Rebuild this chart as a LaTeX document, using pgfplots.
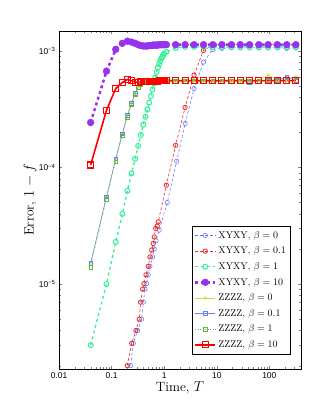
\documentclass[border=0pt]{standalone}
\usepackage{fontspec}
\usepackage{pgfplots}
\pgfplotsset{compat=1.18}
\newfontfamily\arialfont{Liberation Sans}

\definecolor{xyblue}{RGB}{90,110,250}
\definecolor{xyred}{RGB}{240,40,40}
\definecolor{xygreen}{RGB}{50,240,150}
\definecolor{xypurple}{RGB}{150,50,240}
\definecolor{zzyellow}{RGB}{200,220,60}
\definecolor{zzblue}{RGB}{100,130,240}
\definecolor{zzgreen}{RGB}{90,190,60}
\definecolor{zzred}{RGB}{255,0,0}

\begin{document}
\begin{tikzpicture}
\path[use as bounding box] (0,0) rectangle (332bp,415bp);
\begin{axis}[
    at={(59bp,46bp)}, anchor=south west,
    scale only axis, width=242bp, height=338bp,
    xmode=log, ymode=log,
    xmin=0.01, xmax=400, ymin=1.87e-6, ymax=1.48e-3,
    xtick={0.01,0.1,1,10,100},
    xticklabels={0.01,0.1,1,10,100},
    minor xtick={0.02,0.03,0.04,0.05,0.06,0.07,0.08,0.09,0.2,0.3,0.4,0.5,0.6,0.7,0.8,0.9,2,3,4,5,6,7,8,9,20,30,40,50,60,70,80,90,200,300},
    ytick={1e-5,1e-4,1e-3},
    yticklabels={10\textsuperscript{−5},10\textsuperscript{−4},10\textsuperscript{−3}},
    minor ytick={2e-6,3e-6,4e-6,5e-6,6e-6,7e-6,8e-6,9e-6,2e-5,3e-5,4e-5,5e-5,6e-5,7e-5,8e-5,9e-5,2e-4,3e-4,4e-4,5e-4,6e-4,7e-4,8e-4,9e-4},
    tick align=inside,
    major tick length=3bp, minor tick length=1.8bp,
    tick label style={font=\arialfont\fontsize{8.5}{10}\selectfont},
    xlabel={Time, $T$},
    ylabel={Error, $1-f$},
    label style={font=\fontsize{13.5}{15}\selectfont},
    xlabel style={at={(axis description cs:0.5,-0.056)}, anchor=center},
    ylabel style={at={(axis description cs:-0.12,0.5)}, anchor=center},
    legend style={at={(0.955,0.044)}, anchor=south east, draw=black,
        font=\fontsize{9.8}{11}\selectfont, fill=white, row sep=3.2bp,
        inner xsep=2bp, inner ysep=3bp},
    legend image code/.code={\draw[mark repeat=2, mark phase=2] plot coordinates {(0bp,0bp) (10bp,0bp) (20bp,0bp)};},
    legend cell align=left,
]
% XYXY, beta = 0
\addplot[xyblue, densely dashed, line width=0.5pt, mark=o, mark size=2.2pt, mark options={solid}] coordinates {
(0.231,2.0e-6)(0.259,3.1e-6)(0.313,4.0e-6)(0.373,5.0e-6)(0.401,7.0e-6)(0.432,9.06e-6)(0.465,1.01e-5)(0.498,1.2e-5)(0.537,1.42e-5)(0.604,1.71e-5)(0.648,2.0e-5)(0.699,2.35e-5)(0.807,2.9e-5)(1.145,5.0e-5)(1.73,1.13e-4)(2.5,2.38e-4)(3.7,4.75e-4)(5.6,8.0e-4)(8.4,1.03e-3)(12.5,1.05e-3)(19,1.06e-3)(28,1.06e-3)(42,1.06e-3)(63,1.06e-3)(95,1.06e-3)(142,1.06e-3)(214,1.05e-3)(320,1.06e-3)};
\addlegendentry{XYXY, $\beta=0$}
% XYXY, beta = 0.1
\addplot[xyred, densely dashed, line width=0.6pt, mark=o, mark size=2.2pt, mark options={solid, line width=0.8pt}] coordinates {
(0.199,2.0e-6)(0.241,3.1e-6)(0.291,4.0e-6)(0.336,5.0e-6)(0.357,7.0e-6)(0.390,9.06e-6)(0.413,1.01e-5)(0.451,1.2e-5)(0.498,1.42e-5)(0.537,1.71e-5)(0.579,1.96e-5)(0.620,2.23e-5)(0.647,2.54e-5)(0.689,3.0e-5)(0.739,3.14e-5)(0.772,3.42e-5)(1.1,7.05e-5)(1.65,1.55e-4)(2.5,3.27e-4)(3.7,6.2e-4)(5.6,1.01e-3)(8.4,1.12e-3)(12.5,1.13e-3)(19,1.13e-3)(28,1.13e-3)(42,1.13e-3)(63,1.13e-3)(95,1.13e-3)(142,1.13e-3)(214,1.13e-3)(320,1.13e-3)};
\addlegendentry{XYXY, $\beta=0.1$}
% XYXY, beta = 1
\addplot[xygreen, dashed, line width=1.3pt, mark=o, mark size=2.5pt, mark options={solid, line width=1pt}] coordinates {
(0.04,3.0e-6)(0.08,1.0e-5)(0.12,2.3e-5)(0.16,4.0e-5)(0.2,6.3e-5)(0.24,8.9e-5)(0.28,1.19e-4)(0.32,1.53e-4)(0.36,1.9e-4)(0.4,2.33e-4)(0.44,2.72e-4)(0.48,3.14e-4)(0.52,3.6e-4)(0.56,4.1e-4)(0.6,4.66e-4)(0.64,5.25e-4)(0.68,5.9e-4)(0.72,6.6e-4)(0.76,7.2e-4)(0.8,7.7e-4)(0.84,8.2e-4)(0.88,8.6e-4)(0.92,8.9e-4)(0.96,9.2e-4)(1.0,9.5e-4)(1.1,9.8e-4)(1.65,1.06e-3)(2.5,1.08e-3)(3.7,1.08e-3)(5.6,1.08e-3)(8.4,1.08e-3)(12.5,1.08e-3)(19,1.08e-3)(28,1.08e-3)(42,1.08e-3)(63,1.08e-3)(95,1.08e-3)(142,1.08e-3)(214,1.08e-3)(320,1.08e-3)};
\addlegendentry{XYXY, $\beta=1$}
% XYXY, beta = 10
\addplot[xypurple, dash pattern=on 3pt off 3pt, line width=2.5pt, mark=*, mark size=3.4pt, mark options={solid, line width=0.5pt}] coordinates {
(0.04,2.43e-4)(0.08,6.7e-4)(0.12,1.03e-3)(0.16,1.16e-3)(0.2,1.21e-3)(0.24,1.19e-3)(0.28,1.16e-3)(0.32,1.13e-3)(0.36,1.11e-3)(0.4,1.10e-3)(0.44,1.10e-3)(0.48,1.10e-3)(0.52,1.11e-3)(0.56,1.11e-3)(0.6,1.12e-3)(0.64,1.12e-3)(0.68,1.12e-3)(0.72,1.12e-3)(0.76,1.12e-3)(0.8,1.13e-3)(0.84,1.13e-3)(0.88,1.13e-3)(0.92,1.13e-3)(0.96,1.13e-3)(1.0,1.13e-3)(1.1,1.13e-3)(1.65,1.13e-3)(2.5,1.13e-3)(3.7,1.13e-3)(5.6,1.13e-3)(8.4,1.13e-3)(12.5,1.13e-3)(19,1.13e-3)(28,1.13e-3)(42,1.13e-3)(63,1.13e-3)(95,1.13e-3)(142,1.13e-3)(214,1.13e-3)(320,1.13e-3)};
\addlegendentry{XYXY, $\beta=10$}
% ZZZZ, beta = 0
\addplot[zzyellow, line width=0.5pt, mark=o, mark size=1.4pt] coordinates {
(0.04,1.52e-5)(0.08,5.6e-5)(0.12,1.19e-4)(0.16,1.95e-4)(0.2,2.8e-4)(0.24,3.55e-4)(0.28,4.3e-4)(0.32,4.9e-4)(0.36,5.25e-4)(0.4,5.4e-4)(0.44,5.5e-4)(0.48,5.5e-4)(0.52,5.5e-4)(0.56,5.5e-4)(0.6,5.5e-4)(0.64,5.5e-4)(0.68,5.5e-4)(0.72,5.5e-4)(0.76,5.5e-4)(0.8,5.5e-4)(0.84,5.5e-4)(0.88,5.5e-4)(0.92,5.5e-4)(0.96,5.5e-4)(1.0,5.5e-4)(1.1,5.5e-4)(1.65,5.5e-4)(2.5,5.5e-4)(3.7,5.5e-4)(5.6,5.5e-4)(8.4,5.5e-4)(12.5,5.5e-4)(19,5.5e-4)(28,5.5e-4)(42,5.45e-4)(63,5.6e-4)(95,6.2e-4)(142,5.6e-4)(214,5.7e-4)(320,6.0e-4)};
\addlegendentry{ZZZZ, $\beta=0$}
% ZZZZ, beta = 0.1
\addplot[zzblue, line width=0.5pt, mark=square, mark size=1.9pt] coordinates {
(0.04,1.52e-5)(0.08,5.6e-5)(0.12,1.19e-4)(0.16,1.95e-4)(0.2,2.8e-4)(0.24,3.55e-4)(0.28,4.3e-4)(0.32,4.9e-4)(0.36,5.25e-4)(0.4,5.4e-4)(0.44,5.5e-4)(0.48,5.5e-4)(0.52,5.5e-4)(0.56,5.5e-4)(0.6,5.5e-4)(0.64,5.5e-4)(0.68,5.5e-4)(0.72,5.5e-4)(0.76,5.5e-4)(0.8,5.5e-4)(0.84,5.5e-4)(0.88,5.5e-4)(0.92,5.5e-4)(0.96,5.5e-4)(1.0,5.5e-4)(1.1,5.5e-4)(1.65,5.5e-4)(2.5,5.5e-4)(3.7,5.5e-4)(5.6,5.5e-4)(8.4,5.5e-4)(12.5,5.5e-4)(19,5.5e-4)(28,5.5e-4)(42,5.35e-4)(63,5.5e-4)(95,5.6e-4)(142,5.6e-4)(214,6.0e-4)(320,5.6e-4)};
\addlegendentry{ZZZZ, $\beta=0.1$}
% ZZZZ, beta = 1
\addplot[zzgreen, dotted, line width=0.5pt, mark=square, mark size=1.9pt, mark options={solid}] coordinates {
(0.04,1.4e-5)(0.08,5.3e-5)(0.12,1.12e-4)(0.16,1.87e-4)(0.2,2.7e-4)(0.24,3.45e-4)(0.28,4.2e-4)(0.32,4.85e-4)(0.36,5.2e-4)(0.4,5.4e-4)(0.44,5.5e-4)(0.48,5.5e-4)(0.52,5.5e-4)(0.56,5.5e-4)(0.6,5.5e-4)(0.64,5.5e-4)(0.68,5.5e-4)(0.72,5.5e-4)(0.76,5.5e-4)(0.8,5.5e-4)(0.84,5.5e-4)(0.88,5.5e-4)(0.92,5.5e-4)(0.96,5.5e-4)(1.0,5.5e-4)(1.1,5.5e-4)(1.65,5.5e-4)(2.5,5.5e-4)(3.7,5.5e-4)(5.6,5.5e-4)(8.4,5.5e-4)(12.5,5.5e-4)(19,5.5e-4)(28,5.5e-4)(42,5.5e-4)(63,5.5e-4)(95,5.5e-4)(142,5.5e-4)(214,5.5e-4)(320,5.5e-4)};
\addlegendentry{ZZZZ, $\beta=1$}
% ZZZZ, beta = 10
\addplot[zzred, line width=1.6pt, mark=square, mark size=3pt, mark options={line width=1.1pt}] coordinates {
(0.04,1.05e-4)(0.08,3.1e-4)(0.12,4.75e-4)(0.16,5.35e-4)(0.2,5.68e-4)(0.24,5.55e-4)(0.28,5.4e-4)(0.32,5.4e-4)(0.36,5.45e-4)(0.4,5.5e-4)(0.44,5.5e-4)(0.48,5.5e-4)(0.52,5.5e-4)(0.56,5.5e-4)(0.6,5.5e-4)(0.64,5.5e-4)(0.68,5.5e-4)(0.72,5.5e-4)(0.76,5.5e-4)(0.8,5.55e-4)(0.84,5.55e-4)(0.88,5.55e-4)(0.92,5.55e-4)(0.96,5.55e-4)(1.0,5.55e-4)(1.1,5.55e-4)(1.65,5.55e-4)(2.5,5.55e-4)(3.7,5.55e-4)(5.6,5.55e-4)(8.4,5.55e-4)(12.5,5.55e-4)(19,5.55e-4)(28,5.55e-4)(42,5.55e-4)(63,5.55e-4)(95,5.55e-4)(142,5.55e-4)(214,5.55e-4)(320,5.55e-4)};
\addlegendentry{ZZZZ, $\beta=10$}
\end{axis}
\end{tikzpicture}
\end{document}
